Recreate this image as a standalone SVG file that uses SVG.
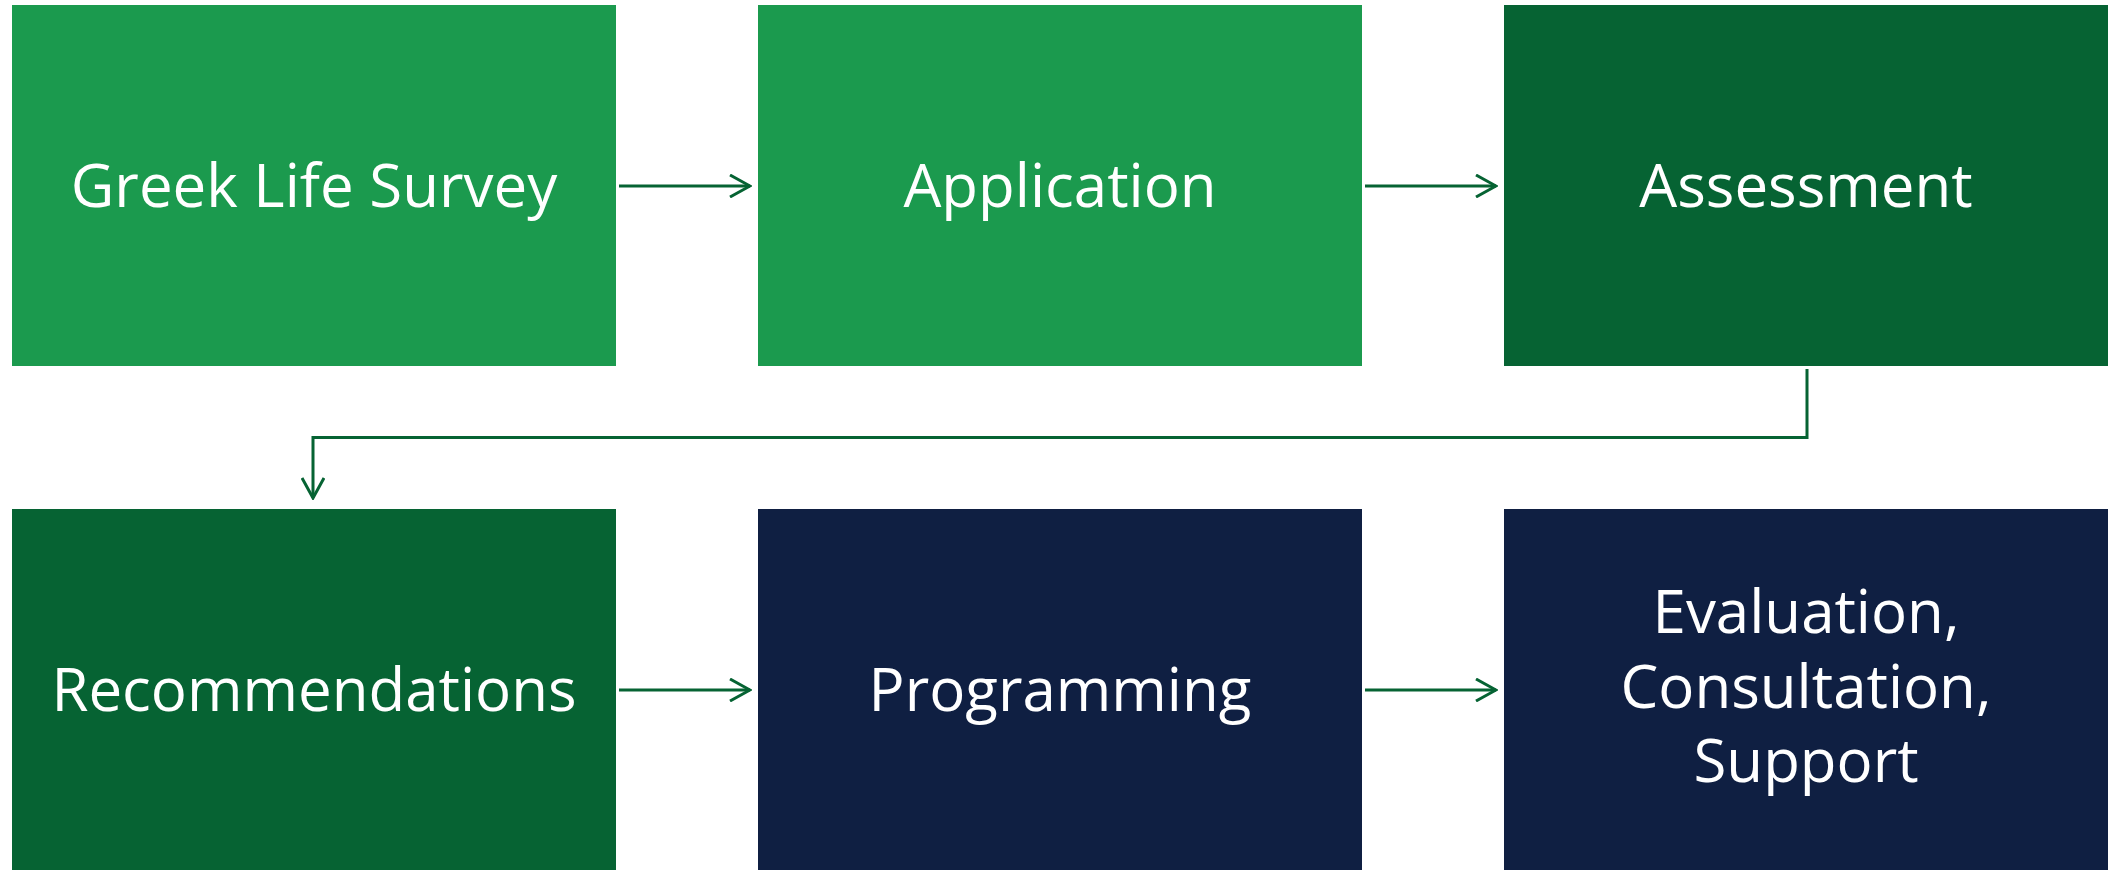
<svg xmlns="http://www.w3.org/2000/svg" width="2108" height="870" viewBox="0 0 2108 870">
<style>
.lg{fill:#1B9A4E}.dg{fill:#066333}.nv{fill:#0F1F42}
.t{fill:#fff;font-family:"Open Sans","Noto Sans",sans-serif;font-size:60px;text-anchor:middle}
.c{fill:none;stroke:#066333;stroke-width:3}
</style>
<defs>
<marker id="ah" viewBox="0 0 24 24" refX="22" refY="12" markerWidth="24" markerHeight="24" markerUnits="userSpaceOnUse" orient="auto">
<path d="M2,1 L22,12 L2,23" fill="none" stroke="#066333" stroke-width="3"/>
</marker>
</defs>
<rect width="2108" height="870" fill="#fff"/>
<g id="n1"><rect class="lg" x="12" y="5" width="604" height="361"/><text class="t" x="314" y="207">Greek Life Survey</text></g>
<g id="n2"><rect class="lg" x="758" y="5" width="604" height="361"/><text class="t" x="1060" y="207">Application</text></g>
<g id="n3"><rect class="dg" x="1504" y="5" width="604" height="361"/><text class="t" x="1806" y="207">Assessment</text></g>
<g id="n4"><rect class="dg" x="12" y="509" width="604" height="361"/><text class="t" x="314" y="711">Recommendations</text></g>
<g id="n5"><rect class="nv" x="758" y="509" width="604" height="361"/><text class="t" x="1060" y="711">Programming</text></g>
<g id="n6"><rect class="nv" x="1504" y="509" width="604" height="361"/><text class="t" x="1806" y="633">Evaluation,</text><text class="t" x="1806" y="708">Consultation,</text><text class="t" x="1806" y="782">Support</text></g>
<g id="connectors">
<path class="c" d="M619,186 H750" marker-end="url(#ah)"/>
<path class="c" d="M1365,186 H1496" marker-end="url(#ah)"/>
<path class="c" d="M1807,369 V437.5 H313 V498" marker-end="url(#ah)"/>
<path class="c" d="M619,690 H750" marker-end="url(#ah)"/>
<path class="c" d="M1365,690 H1496" marker-end="url(#ah)"/>
</g>
</svg>
